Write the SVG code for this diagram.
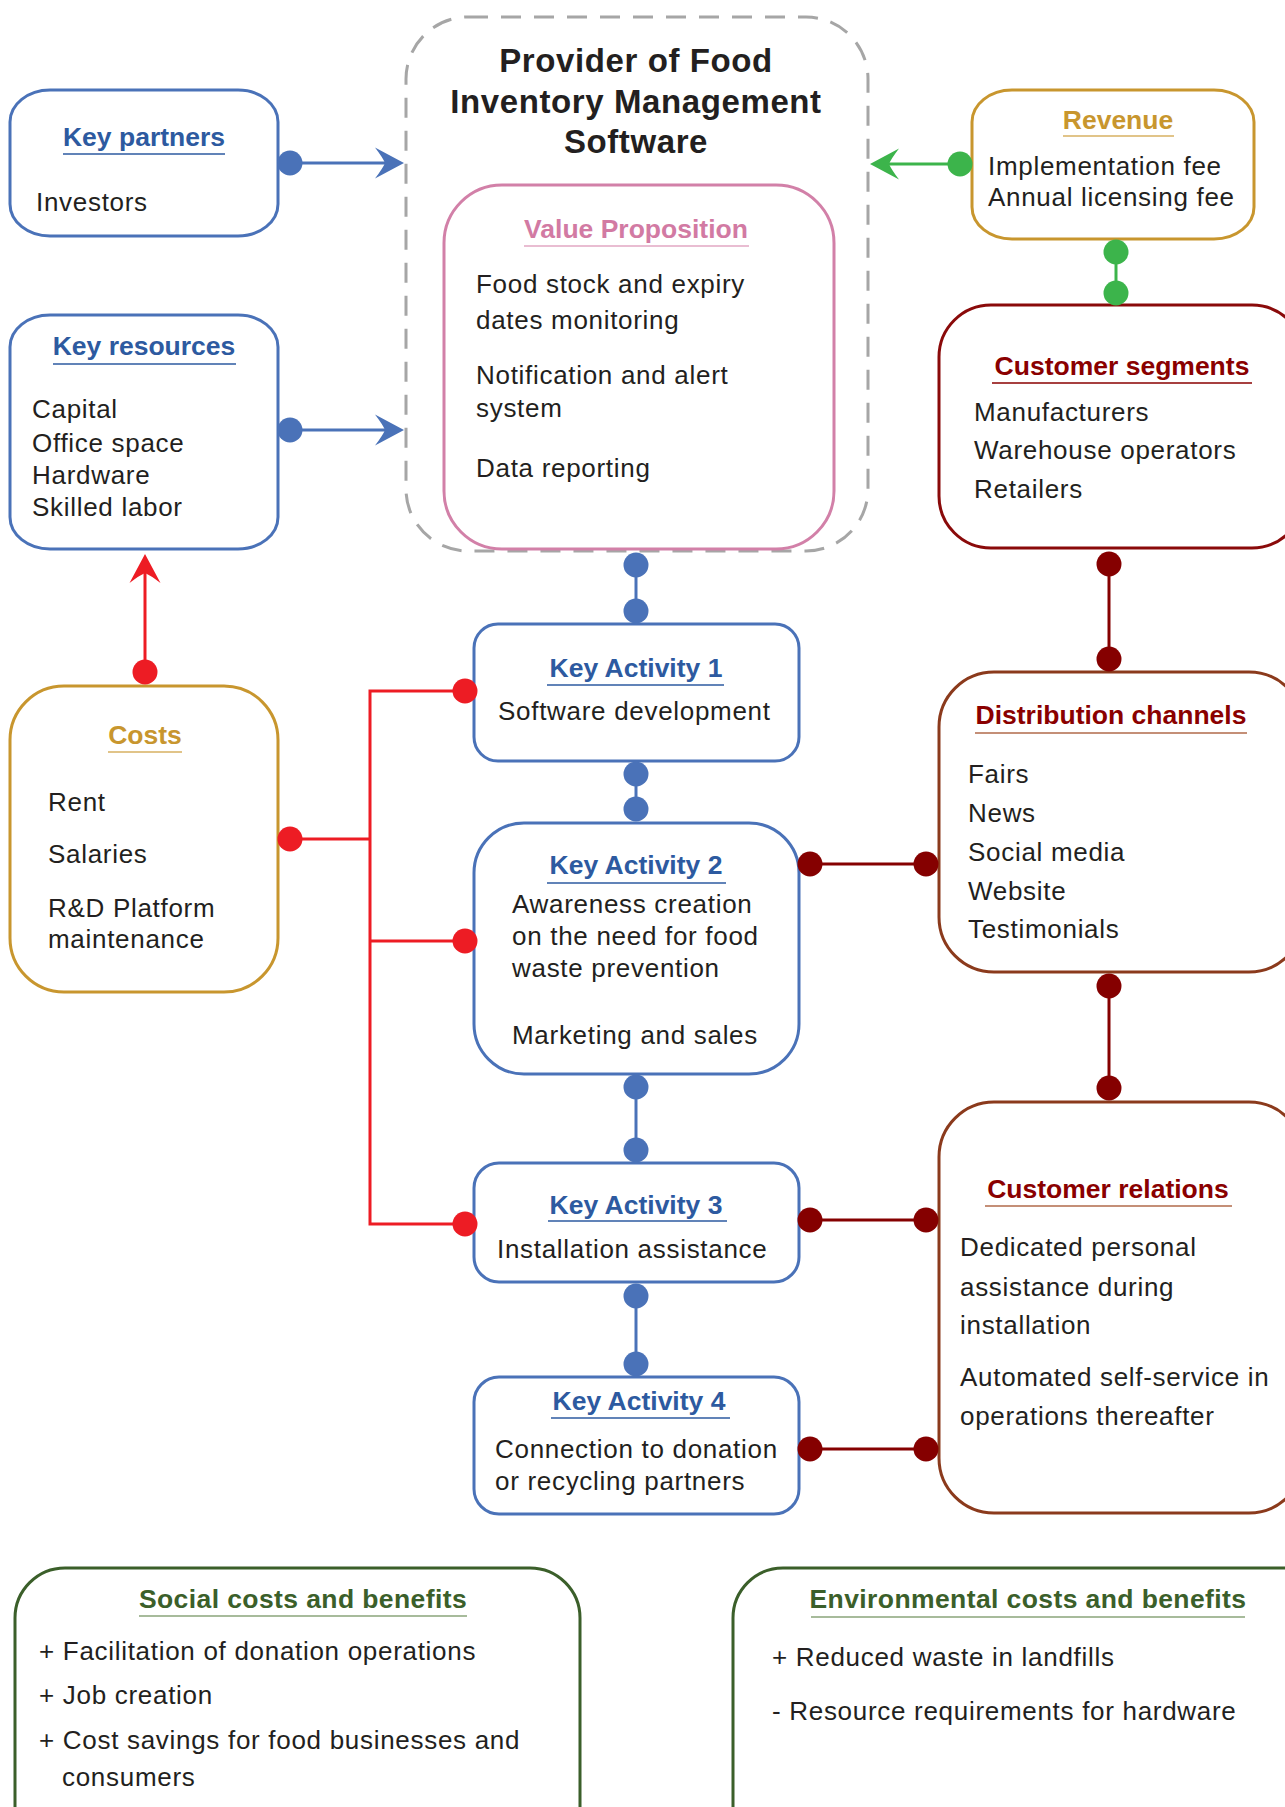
<svg xmlns="http://www.w3.org/2000/svg" width="1285" height="1807" viewBox="0 0 1285 1807">
<style>
  text { font-family: "Liberation Sans", Arial, Helvetica, sans-serif; }
  .body { font-size: 26px; fill: #231f20; letter-spacing: 0.7px; }
  .hdr { font-size: 26.5px; font-weight: bold; text-anchor: middle; }
  .title { font-size: 33px; font-weight: bold; fill: #231f20; text-anchor: middle; letter-spacing: 0.6px; }
  .box { fill: #ffffff; stroke-width: 3; }
  .ul { stroke-width: 1.6; fill: none; }
  .s-blue { stroke: #4a72b8; }
  .t-blue { fill: #2d5aa0; }
  .u-blue { stroke: #2d5aa0; }
  .s-pink { stroke: #d280a8; }
  .t-pink { fill: #d27aa3; }
  .u-pink { stroke: #e2a7c3; }
  .s-gold { stroke: #c8962e; }
  .t-gold { fill: #c8962e; }
  .u-gold { stroke: #d7b062; }
  .s-dred { stroke: #8a0a0a; }
  .t-dred { fill: #8a0000; }
  .u-dred { stroke: #8a0000; }
  .s-brown { stroke: #8b3a1c; }
  .u-brown { stroke: #b06a4a; }
  .s-green { stroke: #3b5f2a; }
  .t-green { fill: #3b5f2a; }
  .u-green { stroke: #8aa57a; }
  .dashed { fill: none; stroke: #a6a6a6; stroke-width: 3; stroke-dasharray: 20 13; }
  .wide { letter-spacing: 0.4px; }
  #connectors line, #connectors polyline { fill: none; stroke-width: 3; }
  .c-blue { stroke: #4a72b8; }
  .c-green { stroke: #3cb44b; }
  .c-dred { stroke: #850000; }
  .c-red { stroke: #ed1c24; }
  .d-blue { fill: #4a72b8; }
  .d-green { fill: #3cb44b; }
  .d-dred { fill: #850000; }
  .d-red { fill: #ed1c24; }
</style>
<defs>
  <marker id="arrow-blue" viewBox="-30 -17 31 34" markerWidth="31" markerHeight="34" refX="-12" refY="0" orient="auto" markerUnits="userSpaceOnUse">
    <path d="M0,0 L-29,-15.5 Q-21,-5 -19,0 Q-21,5 -29,15.5 Z" fill="#4a72b8"/>
  </marker>
  <marker id="arrow-green" viewBox="-30 -17 31 34" markerWidth="31" markerHeight="34" refX="-12" refY="0" orient="auto" markerUnits="userSpaceOnUse">
    <path d="M0,0 L-29,-15.5 Q-21,-5 -19,0 Q-21,5 -29,15.5 Z" fill="#3cb44b"/>
  </marker>
  <marker id="arrow-red" viewBox="-30 -17 31 34" markerWidth="31" markerHeight="34" refX="-12" refY="0" orient="auto" markerUnits="userSpaceOnUse">
    <path d="M0,0 L-29,-15.5 Q-21,-5 -19,0 Q-21,5 -29,15.5 Z" fill="#ed1c24"/>
  </marker>
</defs>

<rect x="0" y="0" width="1285" height="1807" fill="#ffffff"/>

<!-- Company frame -->
<g id="provider">
  <rect class="dashed" x="406" y="17" width="462" height="534" rx="62" ry="62"/>
  <text class="title" x="636" y="72">Provider of Food</text>
  <text class="title" x="636" y="113">Inventory Management</text>
  <text class="title" x="636" y="153">Software</text>
</g>

<g id="value-proposition">
  <rect class="box s-pink" x="444" y="185" width="390" height="364" rx="58" ry="58"/>
  <text class="hdr t-pink" x="636" y="238">Value Proposition</text>
  <line class="ul u-pink" x1="524" y1="246" x2="749" y2="246"/>
  <text class="body" x="476" y="293">Food stock and expiry</text>
  <text class="body" x="476" y="329">dates monitoring</text>
  <text class="body" x="476" y="384">Notification and alert</text>
  <text class="body" x="476" y="417">system</text>
  <text class="body" x="476" y="477">Data reporting</text>
</g>

<g id="key-partners">
  <rect class="box s-blue" x="10" y="90" width="268" height="146" rx="40" ry="32"/>
  <text class="hdr t-blue" x="144" y="146">Key partners</text>
  <line class="ul u-blue" x1="63" y1="154" x2="225" y2="154"/>
  <text class="body" x="36" y="211">Investors</text>
</g>

<g id="key-resources">
  <rect class="box s-blue" x="10" y="315" width="268" height="234" rx="40" ry="32"/>
  <text class="hdr t-blue" x="144" y="355">Key resources</text>
  <line class="ul u-blue" x1="53" y1="364" x2="236" y2="364"/>
  <text class="body" x="32" y="418">Capital</text>
  <text class="body" x="32" y="452">Office space</text>
  <text class="body" x="32" y="484">Hardware</text>
  <text class="body" x="32" y="516">Skilled labor</text>
</g>

<g id="revenue">
  <rect class="box s-gold" x="972" y="90" width="282" height="149" rx="40" ry="32"/>
  <text class="hdr t-gold" x="1118" y="129">Revenue</text>
  <line class="ul u-gold" x1="1063" y1="136" x2="1174" y2="136"/>
  <text class="body" x="988" y="175">Implementation fee</text>
  <text class="body" x="988" y="206">Annual licensing fee</text>
</g>

<g id="customer-segments">
  <rect class="box s-dred" x="939" y="305" width="365" height="243" rx="52" ry="52"/>
  <text class="hdr t-dred" x="1122" y="375">Customer segments</text>
  <line class="ul u-dred" x1="992" y1="383" x2="1252" y2="383"/>
  <text class="body" x="974" y="421">Manufacturers</text>
  <text class="body" x="974" y="459">Warehouse operators</text>
  <text class="body" x="974" y="498">Retailers</text>
</g>

<g id="distribution-channels">
  <rect class="box s-brown" x="939" y="672" width="365" height="300" rx="55" ry="55"/>
  <text class="hdr t-dred" x="1111" y="724">Distribution channels</text>
  <line class="ul u-brown" x1="975" y1="733" x2="1247" y2="733"/>
  <text class="body" x="968" y="783">Fairs</text>
  <text class="body" x="968" y="822">News</text>
  <text class="body" x="968" y="861">Social media</text>
  <text class="body" x="968" y="900">Website</text>
  <text class="body" x="968" y="938">Testimonials</text>
</g>

<g id="customer-relations">
  <rect class="box s-brown" x="939" y="1102" width="365" height="411" rx="55" ry="55"/>
  <text class="hdr t-dred" x="1108" y="1198">Customer relations</text>
  <line class="ul u-brown" x1="985" y1="1206" x2="1232" y2="1206"/>
  <text class="body" x="960" y="1256">Dedicated personal</text>
  <text class="body" x="960" y="1296">assistance during</text>
  <text class="body" x="960" y="1334">installation</text>
  <text class="body" x="960" y="1386">Automated self-service in</text>
  <text class="body" x="960" y="1425">operations thereafter</text>
</g>

<g id="costs">
  <rect class="box s-gold" x="10" y="686" width="268" height="306" rx="54" ry="54"/>
  <text class="hdr t-gold" x="145" y="744">Costs</text>
  <line class="ul u-gold" x1="108" y1="752" x2="182" y2="752"/>
  <text class="body" x="48" y="811">Rent</text>
  <text class="body" x="48" y="863">Salaries</text>
  <text class="body" x="48" y="917">R&amp;D Platform</text>
  <text class="body" x="48" y="948">maintenance</text>
</g>

<g id="key-activity-1">
  <rect class="box s-blue" x="474" y="624" width="325" height="137" rx="24" ry="24"/>
  <text class="hdr t-blue" x="636" y="677">Key Activity  1</text>
  <line class="ul u-blue" x1="547" y1="685" x2="724" y2="685"/>
  <text class="body" x="498" y="720">Software development</text>
</g>

<g id="key-activity-2">
  <rect class="box s-blue" x="474" y="823" width="325" height="251" rx="50" ry="50"/>
  <text class="hdr t-blue" x="636" y="874">Key Activity  2</text>
  <line class="ul u-blue" x1="547" y1="883" x2="726" y2="883"/>
  <text class="body" x="512" y="913">Awareness creation</text>
  <text class="body" x="512" y="945">on the need for food</text>
  <text class="body" x="512" y="977">waste prevention</text>
  <text class="body" x="512" y="1044">Marketing and sales</text>
</g>

<g id="key-activity-3">
  <rect class="box s-blue" x="474" y="1163" width="325" height="119" rx="25" ry="25"/>
  <text class="hdr t-blue" x="636" y="1214">Key Activity  3</text>
  <line class="ul u-blue" x1="548" y1="1221" x2="727" y2="1221"/>
  <text class="body" x="497" y="1258">Installation assistance</text>
</g>

<g id="key-activity-4">
  <rect class="box s-blue" x="474" y="1377" width="325" height="137" rx="25" ry="25"/>
  <text class="hdr t-blue" x="639" y="1410">Key Activity  4</text>
  <line class="ul u-blue" x1="551" y1="1418" x2="730" y2="1418"/>
  <text class="body" x="495" y="1458">Connection to donation</text>
  <text class="body" x="495" y="1490">or recycling partners</text>
</g>

<g id="social-costs-benefits">
  <rect class="box s-green" x="15" y="1568" width="565" height="290" rx="50" ry="50"/>
  <text class="hdr t-green wide" x="303" y="1608">Social costs and benefits</text>
  <line class="ul u-green" x1="139" y1="1616" x2="467" y2="1616"/>
  <text class="body" x="39" y="1660">+ Facilitation of donation operations</text>
  <text class="body" x="39" y="1704">+ Job creation</text>
  <text class="body" x="39" y="1749">+ Cost savings for food businesses and</text>
  <text class="body" x="62" y="1786">consumers</text>
</g>

<g id="environmental-costs-benefits">
  <rect class="box s-green" x="733" y="1568" width="600" height="290" rx="50" ry="50"/>
  <text class="hdr t-green wide" x="1028" y="1608">Environmental costs and benefits</text>
  <line class="ul u-green" x1="811" y1="1617" x2="1245" y2="1617"/>
  <text class="body" x="772" y="1666">+ Reduced waste in landfills</text>
  <text class="body" x="772" y="1720">- Resource requirements for hardware</text>
</g>

<!-- Links between the canvas blocks -->
<g id="connectors">
  <!-- partners / resources into the value proposition -->
  <line class="c-blue" x1="290" y1="163" x2="392" y2="163" marker-end="url(#arrow-blue)"/>
  <circle class="d-blue" cx="290" cy="163" r="12.5"/>
  <line class="c-blue" x1="290" y1="430" x2="392" y2="430" marker-end="url(#arrow-blue)"/>
  <circle class="d-blue" cx="290" cy="430" r="12.5"/>

  <!-- activity chain -->
  <line class="c-blue" x1="636" y1="565" x2="636" y2="611"/>
  <circle class="d-blue" cx="636" cy="565" r="12.5"/>
  <circle class="d-blue" cx="636" cy="611" r="12.5"/>
  <line class="c-blue" x1="636" y1="774" x2="636" y2="809"/>
  <circle class="d-blue" cx="636" cy="774" r="12.5"/>
  <circle class="d-blue" cx="636" cy="809" r="12.5"/>
  <line class="c-blue" x1="636" y1="1087" x2="636" y2="1150"/>
  <circle class="d-blue" cx="636" cy="1087" r="12.5"/>
  <circle class="d-blue" cx="636" cy="1150" r="12.5"/>
  <line class="c-blue" x1="636" y1="1296" x2="636" y2="1364"/>
  <circle class="d-blue" cx="636" cy="1296" r="12.5"/>
  <circle class="d-blue" cx="636" cy="1364" r="12.5"/>

  <!-- revenue -->
  <line class="c-green" x1="960" y1="164" x2="882" y2="164" marker-end="url(#arrow-green)"/>
  <circle class="d-green" cx="960" cy="164" r="12.5"/>
  <line class="c-green" x1="1116" y1="252" x2="1116" y2="293"/>
  <circle class="d-green" cx="1116" cy="252" r="12.5"/>
  <circle class="d-green" cx="1116" cy="293" r="12.5"/>

  <!-- customer side -->
  <line class="c-dred" x1="1109" y1="564" x2="1109" y2="659"/>
  <circle class="d-dred" cx="1109" cy="564" r="12.5"/>
  <circle class="d-dred" cx="1109" cy="659" r="12.5"/>
  <line class="c-dred" x1="1109" y1="986" x2="1109" y2="1088"/>
  <circle class="d-dred" cx="1109" cy="986" r="12.5"/>
  <circle class="d-dred" cx="1109" cy="1088" r="12.5"/>
  <line class="c-dred" x1="810" y1="864" x2="926" y2="864"/>
  <circle class="d-dred" cx="810" cy="864" r="12.5"/>
  <circle class="d-dred" cx="926" cy="864" r="12.5"/>
  <line class="c-dred" x1="810" y1="1220" x2="926" y2="1220"/>
  <circle class="d-dred" cx="810" cy="1220" r="12.5"/>
  <circle class="d-dred" cx="926" cy="1220" r="12.5"/>
  <line class="c-dred" x1="810" y1="1449" x2="926" y2="1449"/>
  <circle class="d-dred" cx="810" cy="1449" r="12.5"/>
  <circle class="d-dred" cx="926" cy="1449" r="12.5"/>

  <!-- costs -->
  <line class="c-red" x1="145" y1="672" x2="145" y2="566" marker-end="url(#arrow-red)"/>
  <circle class="d-red" cx="145" cy="672" r="12.5"/>
  <polyline class="c-red" points="290,839 370,839"/>
  <polyline class="c-red" points="465,691 370,691 370,1224 465,1224"/>
  <polyline class="c-red" points="370,941 465,941"/>
  <circle class="d-red" cx="290" cy="839" r="12.5"/>
  <circle class="d-red" cx="465" cy="691" r="12.5"/>
  <circle class="d-red" cx="465" cy="941" r="12.5"/>
  <circle class="d-red" cx="465" cy="1224" r="12.5"/>
</g>
</svg>
